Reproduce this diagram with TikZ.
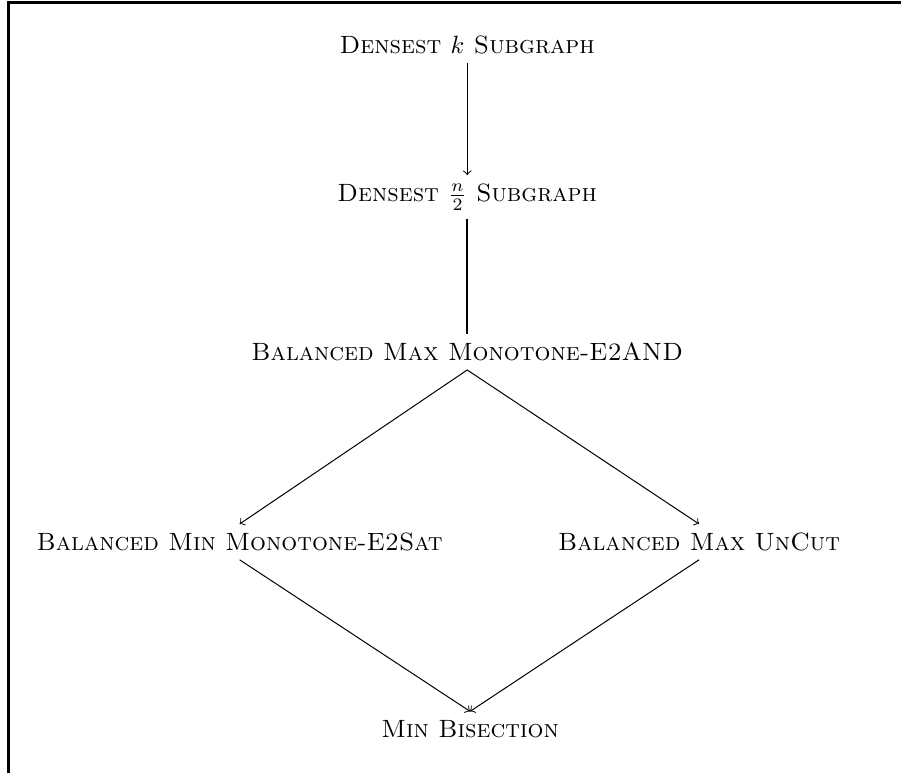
\documentclass[tikz,border=0pt]{standalone}
\begin{document}
\begin{tikzpicture}
\tikzset{problem/.style={font=\scshape}}
\useasboundingbox (0,0) rectangle (12.67,-10.87);

% frame
\draw[line width=1.1pt] (0.12,-10.87) -- (0.12,-0.04) -- (12.67,-0.04);

% problems
\node[problem] (dks) at (6.57,-0.63) {Densest $k$ Subgraph};
\node[problem] (dhs) at (6.57,-2.77) {Densest $\frac{n}{2}$ Subgraph};
\node[problem] (and) at (6.57,-4.95) {Balanced Max Monotone-E2AND};
\node[problem] (sat) at (3.37,-7.62) {Balanced Min Monotone-E2Sat};
\node[problem] (uncut) at (9.83,-7.62) {Balanced Max UnCut};
\node[problem] (bis) at (6.61,-10.25) {Min Bisection};

% reductions
\draw[->] (dks) -- (dhs);
\draw[thick] (dhs) -- (and);
\draw[->] (and.south) -- (sat.north);
\draw[->] (and.south) -- (uncut.north);
\draw[->] (sat.south) -- (bis.north);
\draw[->] (uncut.south) -- (bis.north);

\end{tikzpicture}
\end{document}
